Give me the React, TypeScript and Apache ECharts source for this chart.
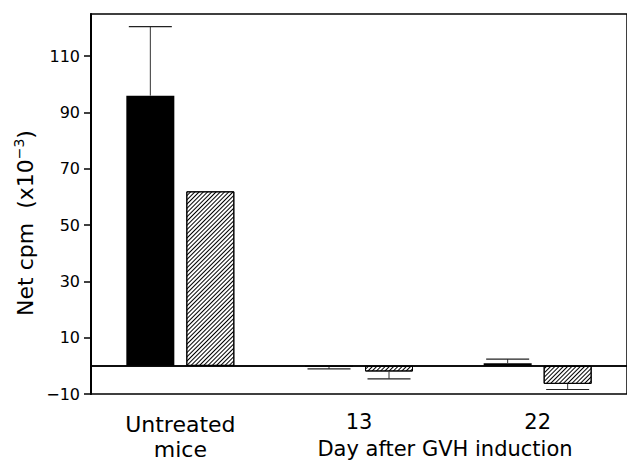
import React, { useEffect, useRef } from 'react';
import * as echarts from 'echarts';

const categories = ['Untreated\nmice', '13', '22'];
const blackValues = [96, -0.3, 0.9];
const blackErrors = [24.5, 0.8, 1.5];
const hatchedValues = [62, -2.0, -6.4];
const hatchedErrors = [0, 2.6, 2.0];
const yMin = -10;
const yMax = 125;
const yInterval = 20;
const xAxisTitle = 'Day after GVH induction';

const FONT = 'DejaVu Sans';
const BAR_W = 48;
const BAR_GAP = 12;
const CAP_W = 43;

function errData(values: number[], errors: number[], side: number) {
  const out: number[][] = [];
  values.forEach((v, i) => {
    if (errors[i] > 0) out.push([i, v, v + (v < 0 ? -1 : 1) * errors[i], side]);
  });
  return out;
}

const renderErr = (params: any, api: any) => {
  const i = api.value(0);
  const v = api.value(1);
  const e = api.value(2);
  const side = api.value(3);
  const p0 = api.coord([i, v]);
  const p1 = api.coord([i, e]);
  const x = p0[0] + (side * (BAR_W + BAR_GAP)) / 2;
  return {
    type: 'group',
    children: [
      { type: 'line', shape: { x1: x, y1: p0[1], x2: x, y2: p1[1] }, style: { stroke: '#333', lineWidth: 1 } },
      { type: 'line', shape: { x1: x - CAP_W / 2, y1: p1[1], x2: x + CAP_W / 2, y2: p1[1] }, style: { stroke: '#222', lineWidth: 1.2 } },
    ],
  };
};

export default function App() {
  const ref = useRef<HTMLDivElement>(null);
  useEffect(() => {
    if (!ref.current) return;
    const chart = echarts.init(ref.current, undefined, { renderer: 'svg' });
    chart.setOption({
      animation: false,
      backgroundColor: '#fff',
      grid: { left: 91, top: 14, right: -8, bottom: 70, show: true, borderColor: '#000', borderWidth: 1.5, containLabel: false },
      xAxis: {
        type: 'category',
        data: categories,
        axisLine: { show: true, lineStyle: { color: '#000', width: 1.5 } },
        axisTick: { show: false },
        axisLabel: {
          color: '#000', fontFamily: FONT, fontSize: 22, lineHeight: 25, margin: 18,
          formatter: (v: string) => (v.indexOf('\n') >= 0 ? v : `{n|${v}}`),
          rich: { n: { fontFamily: FONT, fontSize: 21, color: '#000', lineHeight: 16, padding: [4, 0, 0, 0] } },
        },
      },
      yAxis: {
        type: 'value',
        min: yMin,
        max: yMax,
        interval: yInterval,
        splitLine: { show: false },
        axisLine: { show: true, lineStyle: { color: '#000', width: 2 } },
        axisTick: { show: true, length: 7, lineStyle: { color: '#000', width: 1.5 } },
        axisLabel: {
          color: '#000', fontFamily: FONT, fontSize: 16, margin: 11, showMaxLabel: false,
          formatter: (v: number) => String(v).replace('-', '\u2212'),
        },
      },
      graphic: [
        {
          type: 'text', x: 445, y: 449,
          style: { text: xAxisTitle, fill: '#000', font: `21px "${FONT}"`, lineHeight: 16, textAlign: 'center', textVerticalAlign: 'middle' },
        },
        {
          type: 'text', x: 25, y: 223, rotation: Math.PI / 2,
          style: {
            text: '{a|Net cpm  (x10}{s|\u22123}{a|)}',
            textAlign: 'center', textVerticalAlign: 'middle',
            rich: {
              a: { fontFamily: FONT, fontSize: 22, fill: '#000', lineHeight: 26 },
              s: { fontFamily: FONT, fontSize: 14, fill: '#000', padding: [0, 0, 12, 0] },
            },
          },
        },
      ],
      series: [
        {
          type: 'bar', data: blackValues, barWidth: BAR_W, barGap: '25%',
          itemStyle: { color: '#000' },
          markLine: {
            silent: true, symbol: 'none', label: { show: false },
            lineStyle: { color: '#000', width: 1.5, type: 'solid' },
            data: [{ yAxis: 0 }],
          },
        },
        {
          type: 'bar', data: hatchedValues, barWidth: BAR_W, barGap: '25%',
          itemStyle: {
            color: '#fff', borderColor: '#000', borderWidth: 1,
            decal: { symbol: 'rect', symbolSize: 1, dashArrayX: [1, 0], dashArrayY: [1, 2], rotation: -Math.PI / 4, color: '#000', backgroundColor: '#fff' },
          },
        },
        { type: 'custom', data: errData(blackValues, blackErrors, -1), renderItem: renderErr, encode: { x: 0, y: [1, 2] }, z: 3 },
        { type: 'custom', data: errData(hatchedValues, hatchedErrors, 1), renderItem: renderErr, encode: { x: 0, y: [1, 2] }, z: 3 },
      ],
    });
    return () => chart.dispose();
  }, []);
  return <div ref={ref} style={{ position: 'fixed', left: 0, top: 0, width: 627, height: 464 }} />;
}
